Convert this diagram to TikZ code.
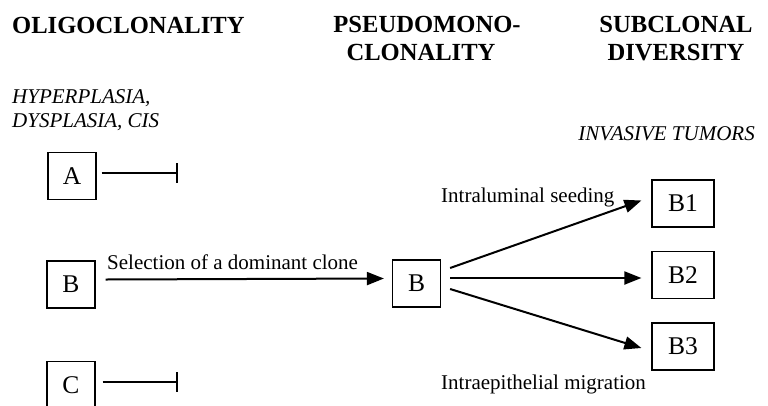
\documentclass[tikz,border=0pt]{standalone}
\usepackage{fontspec}
\setmainfont{Liberation Serif}
\usetikzlibrary{arrows.meta}
\tikzset{
  head/.style={inner sep=0pt, font=\bfseries\fontsize{24.6}{28}\selectfont},
  stage/.style={inner sep=0pt, font=\itshape\fontsize{21}{24}\selectfont},
  lbl/.style={inner sep=0pt, font=\fontsize{21}{24}\selectfont},
  clone/.style={draw, line width=1.2pt, minimum width=48pt, minimum height=47pt, inner sep=0pt, font=\fontsize{25.5}{28}\selectfont},
  sub/.style={clone, minimum width=62pt},
  spread/.style={line width=2pt, -{Triangle[length=17pt,width=13pt]}},
  halt/.style={line width=2pt, -{Bar[width=20pt,line width=2pt]}}
}
\begin{document}
\begin{tikzpicture}[x=1pt,y=-1pt]
\useasboundingbox (0,0) rectangle (768,405);
\node[head, anchor=base west] (oligo) at (12,33) {OLIGOCLONALITY};
\node[head, anchor=base] (pseudo) at (427,32) {PSEUDOMONO-};
\node[head, anchor=base] (pseudob) at (421,60) {CLONALITY};
\node[head, anchor=base] (subcl) at (676,32) {SUBCLONAL};
\node[head, anchor=base] (divers) at (676,60) {DIVERSITY};
\node[stage, anchor=base west] (hyper) at (12,103) {HYPERPLASIA,};
\node[stage, anchor=base west] (dysp) at (12,127) {DYSPLASIA, CIS};
\node[stage, anchor=base east] (invas) at (755,140) {INVASIVE TUMORS};

\node[clone] (A) at (72,176) {A};
\node[clone] (B) at (71,284.5) {B};
\node[clone] (C) at (71,385) {C};
\node[clone] (M) at (416.5,283.5) {B};
\node[sub] (B1) at (683,203.5) {B1};
\node[sub] (B2) at (683,275) {B2};
\node[sub] (B3) at (683,346.5) {B3};

\coordinate (Astop) at (178,173);
\coordinate (Cstop) at (178,382);
\draw[halt] ([xshift=5pt]A.east |- Astop) -- (Astop);
\draw[halt] ([xshift=7pt]C.east |- Cstop) -- (Cstop);
\draw[spread] ([shift={(10pt,5pt)}]B.east) -- ([shift={(-8pt,5pt)}]M.west);
\node[lbl, anchor=base west] (select) at (107,269) {Selection of a dominant clone};

\draw[spread] ([shift={(9pt,15.5pt)}]M.east) -- ([shift={(-10pt,3pt)}]B1.west);
\draw[spread] ([shift={(9pt,5.5pt)}]M.east) -- ([shift={(-10pt,5.5pt)}]M.east -| B2.west);
\draw[spread] ([shift={(9pt,-5.5pt)}]M.east) -- ([shift={(-10pt,-1.5pt)}]B3.west);
\node[lbl, anchor=base west] (seed) at (441,202) {Intraluminal seeding};
\node[lbl, anchor=base west] (migr) at (441,389) {Intraepithelial migration};
\end{tikzpicture}
\end{document}
